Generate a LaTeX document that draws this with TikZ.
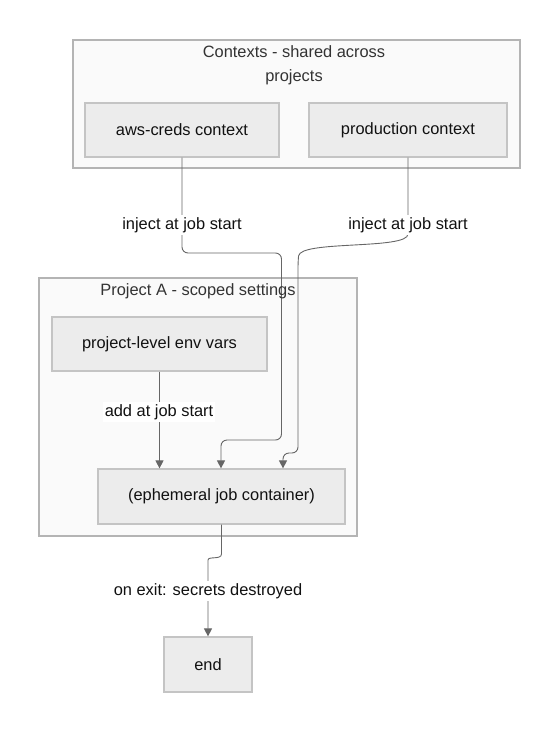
\documentclass[tikz,border=0pt]{standalone}
\usepackage{fontspec}
\setmainfont{Liberation Sans}
\usetikzlibrary{arrows.meta}
\definecolor{clfill}{HTML}{FAFAFA}
\definecolor{clline}{HTML}{B4B4B4}
\definecolor{ndfill}{HTML}{ECECEC}
\definecolor{ndline}{HTML}{C4C4C4}
\definecolor{edge}{HTML}{666666}
\definecolor{txt}{HTML}{111111}
\definecolor{ttl}{HTML}{333333}
\tikzset{
  cluster/.style={draw=clline, fill=clfill, line width=1.2pt},
  box/.style={draw=ndline, fill=ndfill, line width=1.2pt, inner sep=0pt, text=txt, font=\fontsize{16.4}{19}\selectfont},
  ttltext/.style={text=ttl, font=\fontsize{16.4}{24}\selectfont, align=center},
  lbl/.style={fill=white, text=txt, font=\fontsize{16.4}{19}\selectfont, inner sep=2pt},
  conn/.style={draw=edge, line width=0.9pt, rounded corners=6pt},
  arr/.style={-{Triangle[length=8pt,width=8pt]}}
}
\begin{document}
\begin{tikzpicture}[x=1pt,y=-1pt]
\useasboundingbox (0,0) rectangle (559,732);
% clusters
\filldraw[cluster] (73,40) rectangle (520,168);
\node[ttltext] (t1) at (294,65) {Contexts - shared across\\projects};
\filldraw[cluster] (39,278) rectangle (357,536);
% nodes
\node[box, minimum width=194pt, minimum height=54pt] (aws) at (182,130) {aws-creds context};
\node[box, minimum width=198pt, minimum height=54pt] (prod) at (408,130) {production context};
\node[box, minimum width=215pt, minimum height=54pt] (pl) at (159.5,344) {project-level env vars};
\node[box, minimum width=247pt, minimum height=55pt] (job) at (221.5,496.5) {(ephemeral job container)};
\node[box, minimum width=88pt, minimum height=55pt] (end) at (208,664.5) {end};
% bend coordinates
\coordinate (a1) at (182,253);
\coordinate (a2) at (281.5,253);
\coordinate (a3) at (281.5,440);
\coordinate (a4) at (221,440);
\coordinate (p1) at (408,228);
\coordinate (p2) at (298,262);
\coordinate (p3) at (298,453);
\coordinate (p4) at (283,453);
\coordinate (e1) at (221.5,548);
\coordinate (e2) at (208,566);
% connectors
\draw[conn, arr] (aws.south) -- (a1) -- (a2) -- (a3) -- (a4) -- (a4 |- job.north);
\draw[conn, arr] (prod.south) -- (p1) .. controls (408,250) and (300,240) .. (p2) -- (p3) -- (p4) -- (p4 |- job.north);
\draw[conn, arr] (pl.south) -- (pl.south |- job.north);
\draw[conn, arr] (job.south) -- (e1) .. controls (221.5,560) and (208,556) .. (e2) -- (end.north);
% cluster title drawn over lines
\node[ttltext] (t2) at (198,291) {Project A - scoped settings};
% edge labels
\node[lbl] (l1) at (182,225) {inject at job start};
\node[lbl] (l2) at (408,225) {inject at job start};
\node[lbl] (l3) at (159,412) {add at job start};
\node[lbl] (l4) at (208,591) {on exit: secrets destroyed};
\end{tikzpicture}
\end{document}
